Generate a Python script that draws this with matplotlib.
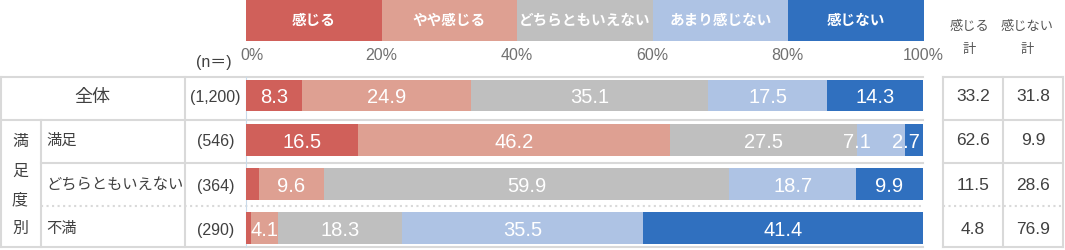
import matplotlib
matplotlib.use("Agg")
import matplotlib.pyplot as plt
import numpy as np

plt.rcParams["font.family"] = ["Liberation Sans", "Noto Sans CJK JP", "DejaVu Sans"]

# data
categories = ["感じる", "やや感じる", "どちらともいえない", "あまり感じない", "感じない"]
colors = ["#D0605A", "#DEA092", "#BFBFBF", "#AEC3E4", "#3070BF"]
row_labels = ["全体", "満足", "どちらともいえない", "不満"]
group_label = "満足度別"
n_labels = ["(1,200)", "(546)", "(364)", "(290)"]
values = np.array([
    [8.3, 24.9, 35.1, 17.5, 14.3],
    [16.5, 46.2, 27.5, 7.1, 2.7],
    [1.9, 9.6, 59.9, 18.7, 9.9],
    [0.7, 4.1, 18.3, 35.5, 41.4],
])
total_headers = [("感じる", "計"), ("感じない", "計")]
kanjiru_total = [33.2, 62.6, 11.5, 4.8]
kanjinai_total = [31.8, 9.9, 28.6, 76.9]
ticks = [0, 20, 40, 60, 80, 100]

W, H = 1065, 251
TEXT = "#404040"
LINE = "#D9D9D9"


def rect(x0, y0, x1, y1):
    # pixel box (top-left origin) -> figure fraction
    return [x0 / W, 1 - y1 / H, (x1 - x0) / W, (y1 - y0) / H]


fig = plt.figure(figsize=(W / 100, H / 100), dpi=100)
fig.patch.set_facecolor("white")

# base layer in pixel units for the table frame and labels
base = fig.add_axes([0, 0, 1, 1])
base.set_xlim(0, W)
base.set_ylim(H, 0)
base.axis("off")

row0, step = 96.5, 44.3
row_y = [row0 + step * i for i in range(len(row_labels))]
bar_x0, bar_x1 = 246, 923

# horizontal rules
for y, x0, style in [(78, 0, "-"), (121, 0, "-"), (163.5, 41, "-"), (206.5, 41, ":"), (248, 0, "-")]:
    base.plot([x0, bar_x1], [y, y], color=LINE, lw=1.5, ls=style, zorder=1)
    base.plot([943, 1063], [y, y], color=LINE, lw=1.5, ls=style, zorder=1)
# vertical rules
for x, y0 in [(1, 78), (41, 121), (185, 78), (943, 78), (1003, 78), (1063, 78)]:
    base.plot([x, x], [y0, 248], color=LINE, lw=1.5, zorder=1)
base.plot([bar_x0, bar_x0], [78, 248], color="#C9DAEA", lw=0.8, zorder=1)

# left labels
base.text(92, row_y[0] + 1, row_labels[0], ha="center", va="center", fontsize=13, color=TEXT)
for i, ch in enumerate(group_label):
    base.text(20, 142 + 28.8 * i, ch, ha="center", va="center", fontsize=11.5, color=TEXT)
for y, lab in zip(row_y[1:], row_labels[1:]):
    base.text(46, y, lab, ha="left", va="center", fontsize=11, color=TEXT)
for y, lab in zip(row_y, n_labels):
    base.text(215.5, y + 1, lab, ha="center", va="center", fontsize=11.5, color=TEXT)
base.text(214, 63, "(n＝)", ha="center", va="center", fontsize=11.5, color=TEXT)

# right summary table
for x, (top, bottom) in zip([969, 1027], total_headers):
    base.text(x, 27, top, ha="center", va="center", fontsize=9.5, color="#555555")
    base.text(x, 50, bottom, ha="center", va="center", fontsize=9.5, color="#555555")
for y, a, b in zip(row_y, kanjiru_total, kanjinai_total):
    base.text(973, y, f"{a:.1f}", ha="center", va="center", fontsize=12.5, color=TEXT)
    base.text(1033, y, f"{b:.1f}", ha="center", va="center", fontsize=12.5, color=TEXT)

# legend strip
leg = fig.add_axes(rect(bar_x0, 1, bar_x1 + 1, 42))
leg.set_xlim(0, 100)
leg.set_ylim(-0.5, 0.5)
leg.axis("off")
for i, (cat, col) in enumerate(zip(categories, colors)):
    leg.barh(0, 20, left=20 * i, height=1, color=col)
    leg.text(20 * i + 10, 0.02, cat, ha="center", va="center", fontsize=10.5,
             fontweight="bold", color="white")

# percent scale
for t in ticks:
    x = bar_x0 + (bar_x1 - bar_x0) * t / 100 + (6 if t == 0 else 0)
    base.text(x, 55, f"{t}%", ha="center", va="center", fontsize=11.5, color="#707070")

# stacked bars
ax = fig.add_axes(rect(bar_x0, row0 - step / 2, bar_x1, row_y[-1] + step / 2))
ax.set_xlim(0, 100)
ax.set_ylim(len(row_labels) - 0.5, -0.5)
ax.axis("off")
ax.patch.set_alpha(0)

ypos = np.arange(len(row_labels))
left = np.zeros(len(row_labels))
for j, col in enumerate(colors):
    ax.barh(ypos, values[:, j], left=left, height=0.72, color=col, zorder=2)
    left += values[:, j]

# value labels, nudged left where narrow segments would collide
fig.canvas.draw()
renderer = fig.canvas.get_renderer()
px_per_unit = (bar_x1 - bar_x0) / 100
for i in ypos:
    starts = np.concatenate([[0], np.cumsum(values[i])[:-1]])
    items = []
    for j, v in enumerate(values[i]):
        if v < 2:
            continue
        t = ax.text(starts[j] + v / 2, i + 0.03, f"{v:.1f}", ha="center", va="center",
                    fontsize=14.5, color="white", zorder=3)
        items.append(t)
    limit = 99.6
    for t in reversed(items):
        bb = t.get_window_extent(renderer)
        half = bb.width / 2 / px_per_unit
        x = t.get_position()[0]
        if x + half > limit:
            x = limit - half
            t.set_x(x)
        limit = x - half - 3.2

fig.savefig("out.png", dpi=100, facecolor="white")
